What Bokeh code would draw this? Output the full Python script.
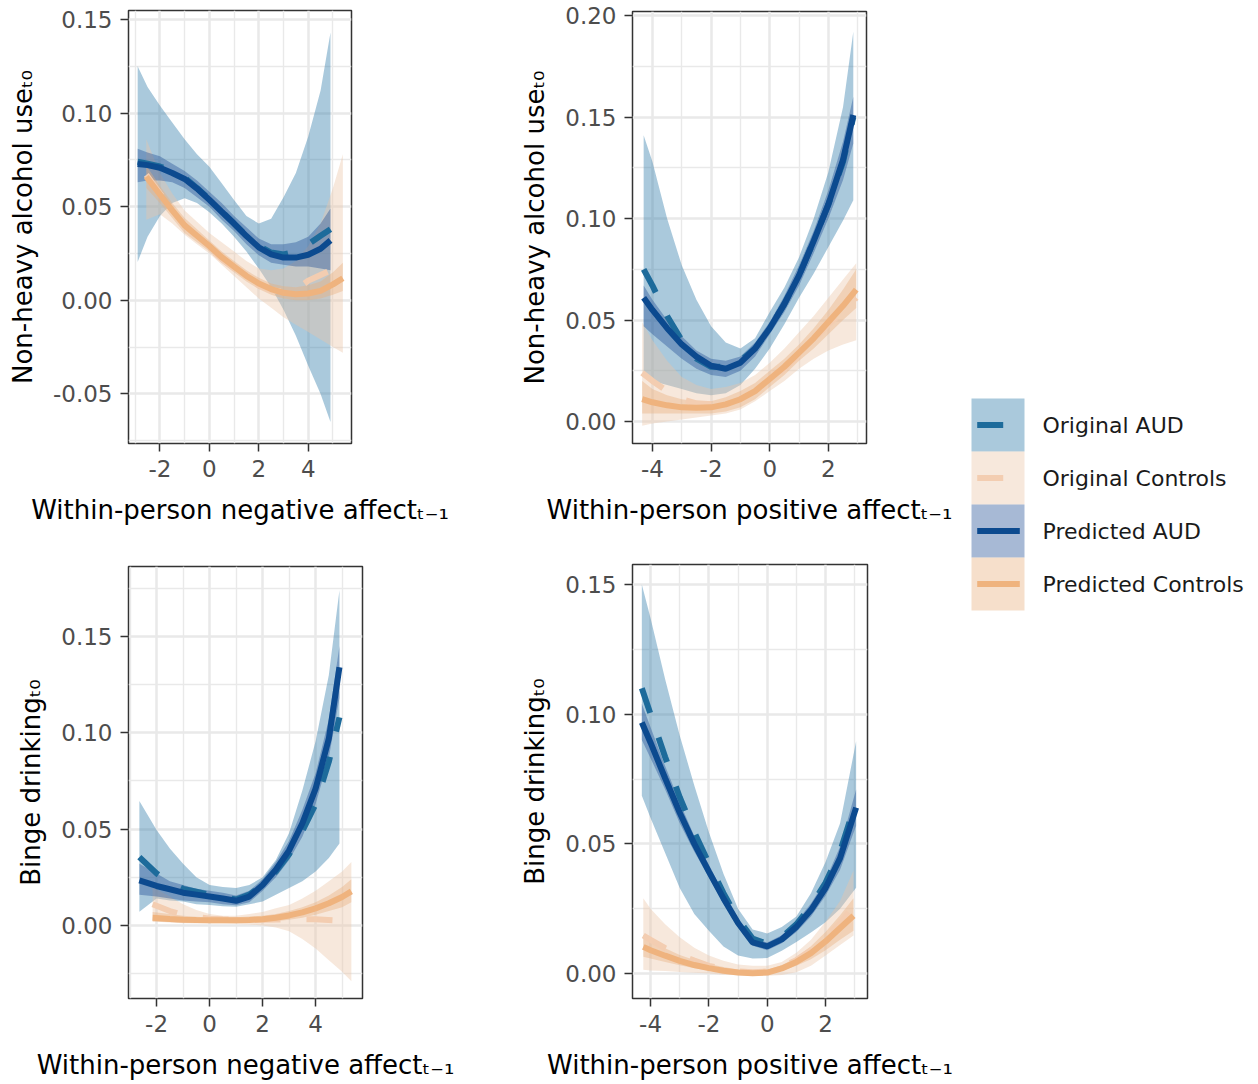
from bokeh.plotting import figure
from bokeh.layouts import row, column
from bokeh.models import Range1d, FixedTicker, NumeralTickFormatter
from bokeh.embed import file_html
from bokeh.resources import INLINE

# ---------------- data ----------------
series_names = ["Original AUD", "Original Controls", "Predicted AUD", "Predicted Controls"]

y_title_nonheavy = "Non-heavy alcohol use\u209c\u2080"
y_title_binge = "Binge drinking\u209c\u2080"
x_title_neg = "Within-person negative affect\u209c\u208b\u2081"
x_title_pos = "Within-person positive affect\u209c\u208b\u2081"

# Panel 1: negative affect -> non-heavy alcohol use
p1_aud_x = [-2.9, -2.5, -2, -1.5, -1, -0.5, 0, 0.5, 1, 1.5, 2, 2.5, 3, 3.5, 4, 4.5, 4.9]
p1_pa_y = [0.0728, 0.0722, 0.0708, 0.068, 0.0648, 0.0597, 0.0537, 0.0473, 0.041, 0.0343, 0.0283, 0.0245, 0.0228, 0.0228, 0.0243, 0.0275, 0.032]
p1_oa_y = [0.074, 0.073, 0.0715, 0.069, 0.0655, 0.060, 0.054, 0.0475, 0.041, 0.0345, 0.029, 0.0255, 0.0245, 0.026, 0.030, 0.0345, 0.038]
p1_oa_hi = [0.125, 0.114, 0.104, 0.095, 0.086, 0.078, 0.0714, 0.0625, 0.0536, 0.045, 0.041, 0.0435, 0.055, 0.068, 0.0875, 0.112, 0.143]
p1_oa_lo = [0.0205, 0.034, 0.045, 0.052, 0.0545, 0.052, 0.047, 0.041, 0.034, 0.026, 0.017, 0.007, -0.005, -0.019, -0.035, -0.050, -0.065]
p1_pa_hi = [0.081, 0.079, 0.077, 0.073, 0.069, 0.064, 0.058, 0.052, 0.045, 0.039, 0.033, 0.030, 0.030, 0.031, 0.034, 0.041, 0.049]
p1_pa_lo = [0.063, 0.064, 0.064, 0.063, 0.060, 0.055, 0.050, 0.043, 0.037, 0.030, 0.024, 0.020, 0.019, 0.018, 0.018, 0.017, 0.016]
p1_ctl_x = [-2.55, -2, -1.5, -1, -0.5, 0, 0.5, 1, 1.5, 2, 2.5, 3, 3.5, 4, 4.5, 5, 5.4]
p1_pc_y = [0.066, 0.0565, 0.048, 0.040, 0.0345, 0.029, 0.023, 0.018, 0.013, 0.009, 0.006, 0.004, 0.0032, 0.0036, 0.005, 0.0085, 0.0118]
p1_oc_y = [0.067, 0.057, 0.048, 0.040, 0.034, 0.028, 0.022, 0.017, 0.012, 0.008, 0.0055, 0.0045, 0.0055, 0.0105, 0.0135, 0.0165, 0.018]
p1_oc_hi = [0.086, 0.068, 0.057, 0.048, 0.042, 0.036, 0.031, 0.026, 0.021, 0.017, 0.016, 0.017, 0.021, 0.029, 0.041, 0.060, 0.078]
p1_oc_lo = [0.043, 0.046, 0.041, 0.035, 0.030, 0.025, 0.019, 0.013, 0.007, 0.001, -0.004, -0.009, -0.013, -0.017, -0.021, -0.025, -0.028]
p1_pc_hi = [0.072, 0.061, 0.052, 0.044, 0.038, 0.032, 0.026, 0.021, 0.016, 0.012, 0.009, 0.0075, 0.007, 0.008, 0.010, 0.015, 0.020]
p1_pc_lo = [0.060, 0.052, 0.044, 0.036, 0.031, 0.026, 0.020, 0.015, 0.010, 0.006, 0.003, 0.001, 0.0, 0.0, 0.001, 0.003, 0.005]

# Panel 2: positive affect -> non-heavy alcohol use
p2_aud_x = [-4.3, -4, -3.5, -3, -2.5, -2, -1.5, -1, -0.5, 0, 0.5, 1, 1.5, 2, 2.5, 2.85]
p2_pa_y = [0.061, 0.055, 0.046, 0.038, 0.032, 0.0275, 0.026, 0.029, 0.036, 0.046, 0.058, 0.072, 0.089, 0.107, 0.129, 0.151]
p2_oa_y = [0.075, 0.067, 0.052, 0.040, 0.031, 0.027, 0.027, 0.030, 0.036, 0.046, 0.058, 0.072, 0.089, 0.107, 0.128, 0.150]
p2_oa_hi = [0.141, 0.128, 0.100, 0.077, 0.060, 0.047, 0.039, 0.036, 0.041, 0.054, 0.066, 0.081, 0.100, 0.123, 0.155, 0.192]
p2_oa_lo = [0.022, 0.020, 0.018, 0.016, 0.014, 0.013, 0.014, 0.018, 0.026, 0.036, 0.048, 0.061, 0.073, 0.086, 0.099, 0.109]
p2_pa_hi = [0.067, 0.060, 0.050, 0.042, 0.035, 0.031, 0.030, 0.032, 0.039, 0.049, 0.062, 0.077, 0.094, 0.114, 0.138, 0.160]
p2_pa_lo = [0.047, 0.043, 0.037, 0.031, 0.026, 0.023, 0.022, 0.025, 0.032, 0.043, 0.054, 0.067, 0.083, 0.100, 0.119, 0.137]
p2_ctl_x = [-4.35, -4, -3.5, -3, -2.5, -2, -1.5, -1, -0.5, 0, 0.5, 1, 1.5, 2, 2.5, 2.95]
p2_pc_y = [0.011, 0.0095, 0.008, 0.007, 0.0068, 0.007, 0.0085, 0.011, 0.015, 0.021, 0.027, 0.034, 0.041, 0.049, 0.057, 0.065]
p2_oc_y = [0.024, 0.020, 0.015, 0.011, 0.009, 0.0085, 0.009, 0.011, 0.015, 0.020, 0.026, 0.033, 0.040, 0.048, 0.054, 0.061]
p2_oc_hi = [0.049, 0.040, 0.030, 0.022, 0.018, 0.016, 0.017, 0.019, 0.023, 0.029, 0.036, 0.044, 0.052, 0.061, 0.070, 0.078]
p2_oc_lo = [-0.002, -0.001, 0.0, 0.001, 0.002, 0.003, 0.004, 0.006, 0.010, 0.015, 0.020, 0.026, 0.031, 0.035, 0.038, 0.040]
p2_pc_hi = [0.020, 0.016, 0.013, 0.011, 0.010, 0.010, 0.012, 0.015, 0.019, 0.025, 0.031, 0.038, 0.046, 0.055, 0.065, 0.075]
p2_pc_lo = [0.004, 0.004, 0.004, 0.004, 0.004, 0.004, 0.005, 0.007, 0.011, 0.017, 0.023, 0.030, 0.036, 0.043, 0.050, 0.056]

# Panel 3: negative affect -> binge drinking
p3_aud_x = [-2.65, -2, -1.5, -1, -0.5, 0, 0.5, 1, 1.5, 2, 2.5, 3, 3.5, 4, 4.5, 4.9]
p3_pa_y = [0.0234, 0.0205, 0.0188, 0.017, 0.016, 0.015, 0.014, 0.0128, 0.015, 0.021, 0.029, 0.039, 0.053, 0.071, 0.097, 0.134]
p3_oa_y = [0.0355, 0.027, 0.022, 0.019, 0.0175, 0.016, 0.0148, 0.0135, 0.016, 0.021, 0.028, 0.037, 0.049, 0.063, 0.085, 0.108]
p3_oa_hi = [0.0646, 0.0496, 0.040, 0.032, 0.025, 0.021, 0.020, 0.0195, 0.021, 0.025, 0.034, 0.048, 0.070, 0.0956, 0.130, 0.174]
p3_oa_lo = [0.0071, 0.014, 0.013, 0.0124, 0.011, 0.0106, 0.010, 0.0097, 0.011, 0.0124, 0.016, 0.0195, 0.023, 0.028, 0.035, 0.0425]
p3_pa_hi = [0.032, 0.027, 0.023, 0.021, 0.019, 0.018, 0.017, 0.0155, 0.018, 0.024, 0.033, 0.044, 0.060, 0.079, 0.107, 0.145]
p3_pa_lo = [0.016, 0.015, 0.014, 0.013, 0.0125, 0.012, 0.011, 0.0105, 0.012, 0.018, 0.025, 0.034, 0.046, 0.063, 0.087, 0.118]
p3_ctl_x = [-2.15, -1.5, -1, -0.5, 0, 0.5, 1, 1.5, 2, 2.5, 3, 3.5, 4, 4.5, 5, 5.35]
p3_pc_y = [0.004, 0.0034, 0.003, 0.0028, 0.0027, 0.0027, 0.0027, 0.0029, 0.0032, 0.004, 0.0052, 0.0068, 0.0089, 0.0115, 0.0148, 0.0177]
p3_oc_x = [-2.15, -1.5, -1, -0.5, 0, 0.5, 1, 1.5, 2, 2.5, 3, 3.5, 4, 4.7]
p3_oc_y = [0.011, 0.0075, 0.0055, 0.0045, 0.0035, 0.0032, 0.003, 0.003, 0.003, 0.0031, 0.0032, 0.0033, 0.0032, 0.0027]
p3_oc_hi = [0.020, 0.015, 0.011, 0.008, 0.006, 0.005, 0.005, 0.006, 0.007, 0.009, 0.0106, 0.014, 0.018, 0.023, 0.028, 0.033]
p3_oc_lo = [0.002, 0.0015, 0.0012, 0.001, 0.001, 0.001, 0.0008, 0.0005, 0.0, -0.001, -0.003, -0.007, -0.012, -0.018, -0.024, -0.029]
p3_pc_hi = [0.007, 0.006, 0.005, 0.0045, 0.0042, 0.0042, 0.0043, 0.0046, 0.005, 0.006, 0.0075, 0.0095, 0.012, 0.0155, 0.020, 0.024]
p3_pc_lo = [0.002, 0.0018, 0.0016, 0.0015, 0.0014, 0.0014, 0.0014, 0.0015, 0.0017, 0.0022, 0.003, 0.004, 0.0055, 0.0075, 0.0095, 0.012]

# Panel 4: positive affect -> binge drinking
p4_aud_x = [-4.3, -4, -3.5, -3, -2.5, -2, -1.5, -1, -0.5, 0, 0.5, 1, 1.5, 2, 2.5, 3.05]
p4_pa_y = [0.0968, 0.089, 0.0753, 0.062, 0.050, 0.0393, 0.029, 0.0195, 0.012, 0.0105, 0.0132, 0.018, 0.0245, 0.033, 0.0445, 0.064]
p4_oa_y = [0.110, 0.100, 0.0835, 0.068, 0.0545, 0.0425, 0.031, 0.021, 0.0135, 0.0115, 0.014, 0.019, 0.026, 0.035, 0.047, 0.0665]
p4_oa_hi = [0.150, 0.137, 0.1135, 0.0918, 0.0725, 0.0545, 0.0385, 0.025, 0.017, 0.0155, 0.018, 0.022, 0.031, 0.043, 0.058, 0.0896]
p4_oa_lo = [0.0686, 0.060, 0.0465, 0.033, 0.023, 0.0165, 0.0104, 0.007, 0.0058, 0.006, 0.0088, 0.0122, 0.0158, 0.0198, 0.025, 0.0331]
p4_pa_hi = [0.104, 0.095, 0.080, 0.066, 0.053, 0.042, 0.031, 0.021, 0.0135, 0.012, 0.0148, 0.020, 0.027, 0.036, 0.049, 0.071]
p4_pa_lo = [0.090, 0.083, 0.071, 0.058, 0.047, 0.037, 0.027, 0.018, 0.0107, 0.009, 0.0117, 0.016, 0.022, 0.030, 0.040, 0.057]
p4_ctl_x = [-4.25, -4, -3.5, -3, -2.5, -2, -1.5, -1, -0.5, 0, 0.5, 1, 1.5, 2, 2.5, 2.96]
p4_pc_y = [0.0103, 0.009, 0.0069, 0.0049, 0.0033, 0.0021, 0.0011, 0.0004, 0.0001, 0.0004, 0.002, 0.0045, 0.0079, 0.0124, 0.0176, 0.0223]
p4_oc_y = [0.0147, 0.013, 0.0098, 0.0072, 0.005, 0.003, 0.0018, 0.0009, 0.0005, 0.0008, 0.0025, 0.0052, 0.009, 0.014, 0.0195, 0.026]
p4_oc_hi = [0.029, 0.025, 0.019, 0.014, 0.010, 0.007, 0.005, 0.0035, 0.003, 0.003, 0.0045, 0.008, 0.013, 0.020, 0.028, 0.0397]
p4_oc_lo = [0.0015, 0.0012, 0.001, 0.0006, 0.0003, 0.0, -0.0004, -0.0006, -0.0008, -0.0008, -0.0005, 0.0005, 0.003, 0.007, 0.011, 0.0147]
p4_pc_hi = [0.015, 0.013, 0.0098, 0.0072, 0.0052, 0.0037, 0.0025, 0.0016, 0.0012, 0.0015, 0.0032, 0.0062, 0.0105, 0.016, 0.0225, 0.029]
p4_pc_lo = [0.0065, 0.0058, 0.0045, 0.0032, 0.0021, 0.0012, 0.0005, 0.0, -0.0003, -0.0002, 0.001, 0.003, 0.0055, 0.009, 0.013, 0.0165]

# axis breaks
p1_xticks, p1_xminor = [-2, 0, 2, 4], [-3, -1, 1, 3, 5]
p1_yticks, p1_yminor = [-0.05, 0.0, 0.05, 0.10, 0.15], [-0.075, -0.025, 0.025, 0.075, 0.125]
p2_xticks, p2_xminor = [-4, -2, 0, 2], [-3, -1, 1, 3]
p2_yticks, p2_yminor = [0.0, 0.05, 0.10, 0.15, 0.20], [0.025, 0.075, 0.125, 0.175]
p3_xticks, p3_xminor = [-2, 0, 2, 4], [-3, -1, 1, 3, 5]
p3_yticks, p3_yminor = [0.0, 0.05, 0.10, 0.15], [-0.025, 0.025, 0.075, 0.125, 0.175]
p4_xticks, p4_xminor = [-4, -2, 0, 2], [-3, -1, 1, 3]
p4_yticks, p4_yminor = [0.0, 0.05, 0.10, 0.15], [0.025, 0.075, 0.125]

# ---------------- styling ----------------
FONT = "DejaVu Sans"
LINE = {"Original AUD": "#1d6b9b", "Original Controls": "#f3cdb1",
        "Predicted AUD": "#0c4a8f", "Predicted Controls": "#efb37e"}
FILL = {"Original AUD": "#2a78a8", "Original Controls": "#ebc6a8",
        "Predicted AUD": "#225097", "Predicted Controls": "#e8b07e"}
FILL_ALPHA = 0.4
LW = 6
DASH = "26 26"


def panel(xr, yr, xt, xm, yt, ym, xlab, ylab, fw, fh, bl, bt, br, bb,
          aud_x, oa_y, oa_lo, oa_hi, pa_y, pa_lo, pa_hi,
          ctl_x, oc_x, oc_y, oc_lo, oc_hi, pc_y, pc_lo, pc_hi):
    p = figure(frame_width=fw, frame_height=fh, x_range=Range1d(*xr), y_range=Range1d(*yr),
               min_border_left=bl, min_border_top=bt, min_border_right=br, min_border_bottom=bb,
               toolbar_location=None, output_backend="svg")
    p.background_fill_color = "white"
    p.border_fill_color = "white"
    p.outline_line_color = "#333333"
    p.outline_line_width = 1.5
    p.xaxis.ticker = FixedTicker(ticks=xt, minor_ticks=xm)
    p.yaxis.ticker = FixedTicker(ticks=yt, minor_ticks=ym)
    p.xaxis.formatter = NumeralTickFormatter(format="0")
    p.yaxis.formatter = NumeralTickFormatter(format="0.00")
    p.xaxis.axis_label = xlab
    p.yaxis.axis_label = ylab
    for ax in (p.xaxis, p.yaxis):
        ax.axis_line_color = None
        ax.major_tick_line_color = "#333333"
        ax.major_tick_line_width = 1.5
        ax.major_tick_out = 8
        ax.major_tick_in = 0
        ax.minor_tick_line_color = None
        ax.major_label_text_font = FONT
        ax.major_label_text_font_size = "23px"
        ax.major_label_text_color = "#4d4d4d"
        ax.major_label_standoff = 8
        ax.axis_label_text_font = FONT
        ax.axis_label_text_font_size = "26px"
        ax.axis_label_text_font_style = "normal"
        ax.axis_label_text_color = "black"
    p.xaxis.axis_label_standoff = 15
    p.yaxis.axis_label_standoff = 12
    p.grid.grid_line_color = "#e9e9e9"
    p.grid.grid_line_width = 2.5
    p.grid.minor_grid_line_color = "#e9e9e9"
    p.grid.minor_grid_line_width = 1.4

    p.varea(x=aud_x, y1=oa_lo, y2=oa_hi, fill_color=FILL["Original AUD"], fill_alpha=FILL_ALPHA)
    p.varea(x=ctl_x, y1=oc_lo, y2=oc_hi, fill_color=FILL["Original Controls"], fill_alpha=FILL_ALPHA)
    p.varea(x=aud_x, y1=pa_lo, y2=pa_hi, fill_color=FILL["Predicted AUD"], fill_alpha=FILL_ALPHA)
    p.varea(x=ctl_x, y1=pc_lo, y2=pc_hi, fill_color=FILL["Predicted Controls"], fill_alpha=FILL_ALPHA)

    p.line(aud_x, oa_y, line_color=LINE["Original AUD"], line_width=LW, line_dash=DASH)
    p.line(oc_x, oc_y, line_color=LINE["Original Controls"], line_width=LW, line_dash=DASH)
    p.line(aud_x, pa_y, line_color=LINE["Predicted AUD"], line_width=LW)
    p.line(ctl_x, pc_y, line_color=LINE["Predicted Controls"], line_width=LW)
    return p


# column 1 is 468 px wide, column 2 is 490 px wide, legend canvas 288 px
p1 = panel((-3.27, 5.75), (-0.0765, 0.1548), p1_xticks, p1_xminor, p1_yticks, p1_yminor,
           x_title_neg, y_title_nonheavy, 223, 433, 128, 10, 117, 97,
           p1_aud_x, p1_oa_y, p1_oa_lo, p1_oa_hi, p1_pa_y, p1_pa_lo, p1_pa_hi,
           p1_ctl_x, p1_ctl_x, p1_oc_y, p1_oc_lo, p1_oc_hi, p1_pc_y, p1_pc_lo, p1_pc_hi)
p3 = panel((-3.06, 5.77), (-0.0379, 0.1863), p3_xticks, p3_xminor, p3_yticks, p3_yminor,
           x_title_neg, y_title_binge, 234, 432, 124, 26, 110, 78,
           p3_aud_x, p3_oa_y, p3_oa_lo, p3_oa_hi, p3_pa_y, p3_pa_lo, p3_pa_hi,
           p3_ctl_x, p3_oc_x, p3_oc_y, p3_oc_lo, p3_oc_hi, p3_pc_y, p3_pc_lo, p3_pc_hi)
p2 = panel((-4.68, 3.30), (-0.0108, 0.202), p2_xticks, p2_xminor, p2_yticks, p2_yminor,
           x_title_pos, y_title_nonheavy, 234, 432, 164, 11, 92, 97,
           p2_aud_x, p2_oa_y, p2_oa_lo, p2_oa_hi, p2_pa_y, p2_pa_lo, p2_pa_hi,
           p2_ctl_x, p2_ctl_x, p2_oc_y, p2_oc_lo, p2_oc_hi, p2_pc_y, p2_pc_lo, p2_pc_hi)
p4 = panel((-4.62, 3.44), (-0.0096, 0.1577), p4_xticks, p4_xminor, p4_yticks, p4_yminor,
           x_title_pos, y_title_binge, 235, 434, 163, 24, 92, 78,
           p4_aud_x, p4_oa_y, p4_oa_lo, p4_oa_hi, p4_pa_y, p4_pa_lo, p4_pa_hi,
           p4_ctl_x, p4_ctl_x, p4_oc_y, p4_oc_lo, p4_oc_hi, p4_pc_y, p4_pc_lo, p4_pc_hi)

# ---------------- legend (separate, axis-free canvas in pixel units) ----------------
LEG_W, LEG_H = 288, 1076
leg = figure(frame_width=LEG_W, frame_height=LEG_H, x_range=Range1d(0, LEG_W), y_range=Range1d(LEG_H, 0),
             min_border=0, toolbar_location=None, output_backend="svg",
             x_axis_location=None, y_axis_location=None)
leg.outline_line_color = None
leg.background_fill_color = "white"
leg.border_fill_color = "white"
leg.grid.visible = False
key_left, key_w, key_top, key_h = 13, 53, 398, 53
for i, name in enumerate(series_names):
    top = key_top + i * key_h
    leg.quad(left=key_left, right=key_left + key_w, top=top, bottom=top + key_h,
             fill_color=FILL[name], fill_alpha=FILL_ALPHA, line_color=None)
    yc = top + key_h / 2
    leg.line([key_left + 5.7, key_left + 48.3], [yc, yc], line_color=LINE[name], line_width=LW,
             line_dash=DASH if name.startswith("Original") else "solid")
leg.text(x=[84] * 4, y=[key_top + key_h * (i + 0.5) for i in range(4)], text=series_names,
         text_font={"value": FONT}, text_font_size="22px", text_color="#1a1a1a",
         text_baseline="middle", text_align="left")

layout = row(column(p1, p3), column(p2, p4), leg)
open("out.html", "w").write(file_html(layout, INLINE))
